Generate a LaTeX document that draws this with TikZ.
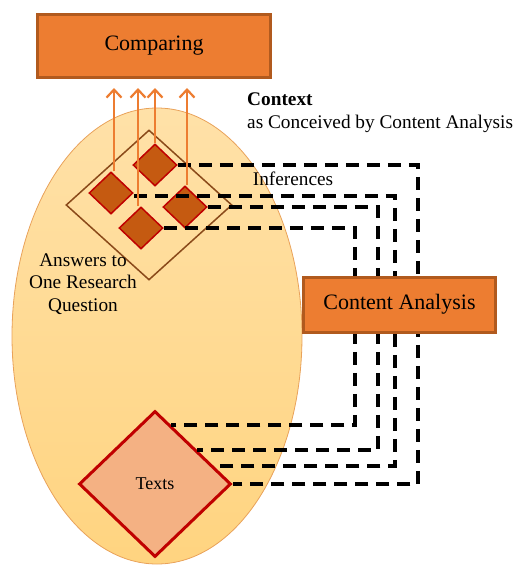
\documentclass[tikz,border=0pt]{standalone}
\usepackage{fontspec}
\setmainfont{Liberation Serif}
\usetikzlibrary{shapes.geometric,arrows.meta,calc}
\definecolor{orangebox}{HTML}{ED7D31}
\definecolor{orangeedge}{HTML}{B15A1E}
\definecolor{elltop}{HTML}{FFE1A8}
\definecolor{ellbot}{HTML}{FFD480}
\definecolor{elledge}{HTML}{E9A25A}
\definecolor{brownline}{HTML}{8A4A1A}
\definecolor{smallfill}{HTML}{C55A11}
\definecolor{rededge}{HTML}{C00000}
\definecolor{textsfill}{HTML}{F4B183}
\begin{document}
\begin{tikzpicture}[x=1pt,y=-1pt,
  box/.style={draw=orangeedge,fill=orangebox,line width=3pt,inner sep=0pt,
    font=\fontsize{22}{26}\selectfont},
  small/.style={diamond,draw=rededge,fill=smallfill,line width=1.5pt,inner sep=0pt,
    minimum width=44pt,minimum height=42pt},
  link/.style={draw=black,line width=3.6pt,dash pattern=on 13pt off 8pt},
  up/.style={draw=orangebox,line width=2.2pt,-{Straight Barb[length=8pt,width=15pt,line width=2.2pt]}},
  lbl/.style={font=\fontsize{19.3}{22.5}\selectfont,inner sep=0pt}
]
\useasboundingbox (0,0) rectangle (524,565);
% context ellipse
\node[ellipse,draw=elledge,top color=elltop,bottom color=ellbot,line width=0.8pt,inner sep=0pt,
  minimum width=290pt,minimum height=456pt] (ctx) at (157,336) {};
% answers diamond
\node[diamond,draw=brownline,line width=1.5pt,inner sep=0pt,
  minimum width=166pt,minimum height=150pt] (ans) at (149,205) {};
% texts diamond
\node[diamond,draw=rededge,fill=textsfill,line width=3pt,inner sep=0pt,
  minimum width=152pt,minimum height=146pt,font=\fontsize{18}{20}\selectfont] (t) at (155,484) {Texts};
% small diamonds
\node[small] (d1) at (155,165) {};
\node[small] (d2) at (111,193) {};
\node[small] (d3) at (185,207) {};
\node[small] (d4) at (141,228) {};
% corner coordinates of dashed connectors
\coordinate (c1) at (418,300);
\coordinate (c2) at (395,300);
\coordinate (c3) at (378,300);
\coordinate (c4) at (355,300);
\coordinate (e2) at ($(t.north)!0.76!(t.east)$);
\coordinate (e3) at ($(t.north)!0.54!(t.east)$);
\coordinate (e4) at ($(t.north)!0.21!(t.east)$);
\path[link] (d1.east) -| (c1) |- (t.east);
\path[link] ([yshift=-3pt]d2.east) -| (c2) |- (e2);
\path[link] (d3.east) -| (c3) |- (e3);
\path[link] (d4.east) -| (c4) |- (e4);
% comparing and content analysis boxes
\node[box,minimum width=233pt,minimum height=63pt] (cmp) at (154,46) {Comparing};
\node[box,minimum width=192pt,minimum height=55pt] (ca) at (399.5,304.5) {Content Analysis};
% arrows up to comparing
\coordinate (top) at (0,88);
\draw[up] ([xshift=3pt]d2.north) -- ([xshift=3pt]d2.north |- top);
\draw[up] ([xshift=-3pt]d4.north) -- ([xshift=-3pt]d4.north |- top);
\draw[up] (d1.north) -- (d1.north |- top);
\draw[up] ([xshift=2pt]d3.north) -- ([xshift=2pt]d3.north |- top);
% labels
\node[lbl,anchor=north west,align=left] (ctxlbl) at (247,93)
  {\textbf{Context}\\as Conceived by Content Analysis};
\node[lbl] (inf) at (293,179) {Inferences};
\node[lbl,align=center] (q) at (83,284) {Answers to\\One Research\\Question};
\end{tikzpicture}
\end{document}
